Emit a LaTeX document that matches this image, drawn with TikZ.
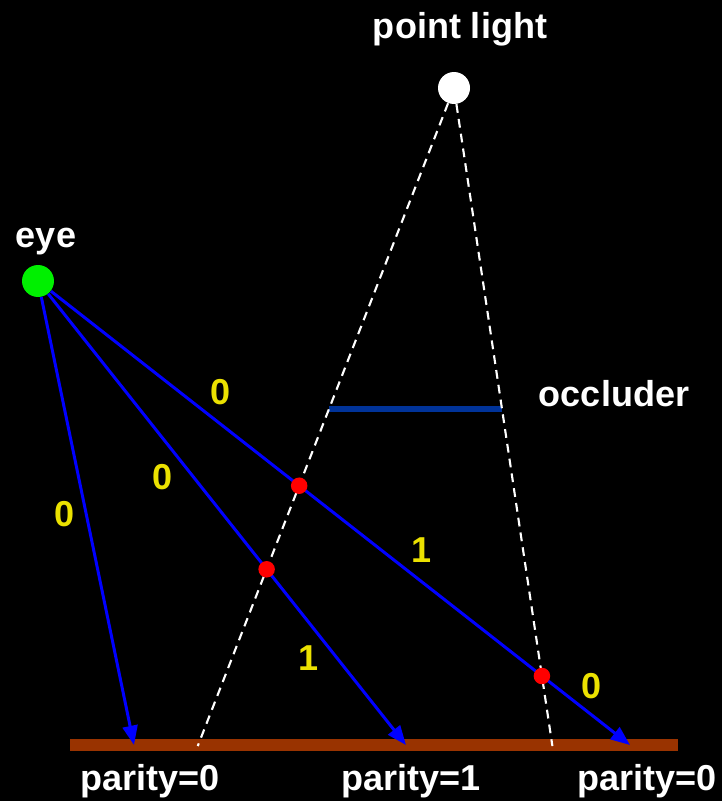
\documentclass[tikz,border=0pt]{standalone}
\usepackage{fontspec}
\setmainfont{Liberation Sans}
\usepackage{tikz}
\usetikzlibrary{arrows.meta,positioning,calc}
\usepackage{xcolor}
\definecolor{raublue}{RGB}{0,0,255}
\definecolor{occblue}{RGB}{0,51,153}
\definecolor{floorbrown}{RGB}{153,51,0}
\definecolor{eyegreen}{RGB}{0,240,0}
\definecolor{countyellow}{RGB}{235,225,0}
\tikzset{
    lightsrc/.style={circle, fill=white, minimum size=0.64cm, inner sep=0pt},
    eyepos/.style={circle, fill=eyegreen, minimum size=0.64cm, inner sep=0pt},
    hit/.style={circle, fill=red, minimum size=0.33cm, inner sep=0pt},
    lbl/.style={text=white, font=\bfseries\fontsize{20.5}{24}\selectfont, anchor=base, inner sep=0pt},
    count/.style={text=countyellow, font=\bfseries\fontsize{20.5}{24}\selectfont, inner sep=0pt},
    ray/.style={draw=raublue, line width=1.7pt, -{Triangle[length=11pt, width=8.5pt]}},
    shadowedge/.style={draw=white, line width=1.2pt, dash pattern=on 5pt off 3.5pt},
    occ/.style={draw=occblue, line width=3.2pt},
}
\begin{document}
\begin{tikzpicture}[x=0.02cm, y=-0.02cm]
    % background
    \fill[black] (0,0) rectangle (722,801);

    % floor
    \fill[floorbrown] (70,739) rectangle (678,751);

    % light, eye, occluder
    \node[lightsrc] (light) at (454,88) {};
    \node[eyepos] (eye) at (38,281) {};
    \coordinate (occL) at (329,409);
    \coordinate (occR) at (502,409);
    \draw[occ] (occL) -- (occR);

    % shadow volume edges
    \coordinate (shadowL) at ($(light)!2.05!(occL)$);
    \coordinate (shadowR) at ($(light)!2.05!(occR)$);
    \draw[shadowedge] (light) -- (shadowL);
    \draw[shadowedge] (light) -- (shadowR);

    % eye rays
    \coordinate (floorA) at (134,745);
    \coordinate (floorB) at (406,745);
    \coordinate (floorC) at (630,745);
    \foreach \fp in {floorA, floorB, floorC} {
        \draw[ray] (eye) -- (\fp);
    }

    % crossings
    \node[hit] (hitA) at (intersection of eye--floorC and light--shadowL) {};
    \node[hit] (hitB) at (intersection of eye--floorB and light--shadowL) {};
    \node[hit] (hitC) at (intersection of eye--floorC and light--shadowR) {};

    % counters
    \foreach \x/\y/\val/\name in {65/514/0/cA, 163/477/0/cB, 221/392/0/cC, 309/658/1/cD, 422/550/1/cE, 592/686/0/cF} {
        \node[count] (\name) at (\x,\y) {\val};
    }

    % labels
    \node[lbl] (lightlbl) at (460,38) {point light};
    \node[lbl] (eyelbl) at (46,247) {eye};
    \node[lbl] (occlbl) at (614,406) {occluder};
    \foreach \x/\val/\name in {150/0/pA, 411/1/pB, 647/0/pC} {
        \node[lbl] (\name) at (\x,790) {parity=\val};
    }
\end{tikzpicture}
\end{document}
